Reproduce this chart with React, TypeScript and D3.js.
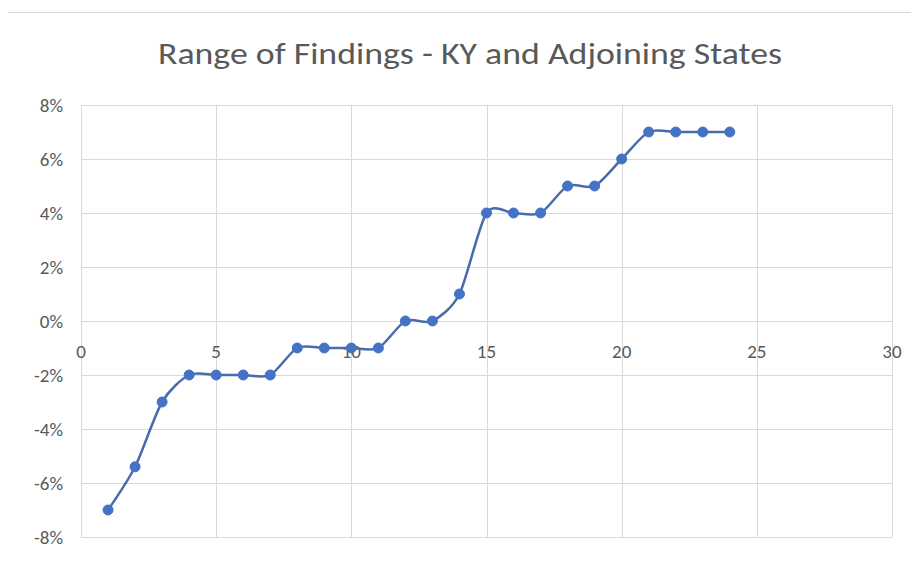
import * as d3 from 'd3';
import React, { useRef, useEffect } from 'react';

const xValues = [1, 2, 3, 4, 5, 6, 7, 8, 9, 10, 11, 12, 13, 14, 15, 16, 17, 18, 19, 20, 21, 22, 23, 24];
const findings = [-7, -5.4, -3, -2, -2, -2, -2, -1, -1, -1, -1, 0, 0, 1, 4, 4, 4, 5, 5, 6, 7, 7, 7, 7];
const yTicks = [-8, -6, -4, -2, 0, 2, 4, 6, 8];
const xTicks = [0, 5, 10, 15, 20, 25, 30];

const title = 'Range of Findings - KY and Adjoining States';

const RangeChart: React.FC = () => {
    const ref = useRef<SVGSVGElement | null>(null);

    useEffect(() => {
        const width = 919;
        const height = 561;
        const font = "Calibri, Carlito, Lato, 'Open Sans', sans-serif";

        const svg = d3.select(ref.current).attr('width', width).attr('height', height);
        svg.selectAll('*').remove();

        svg.append('rect')
            .attr('width', width)
            .attr('height', height)
            .attr('fill', '#ffffff');

        // chart frame
        svg.append('rect')
            .attr('x', 7.5)
            .attr('y', 12.5)
            .attr('width', 910)
            .attr('height', 570)
            .attr('fill', 'none')
            .attr('stroke', '#d9d9d9');

        const x = d3.scaleLinear().domain([0, 30]).range([81, 892]);
        const y = d3.scaleLinear().domain([-8, 8]).range([537, 105]);

        // gridlines
        svg.append('g')
            .selectAll('line')
            .data(yTicks)
            .join('line')
            .attr('x1', x(0))
            .attr('x2', x(30))
            .attr('y1', (d) => y(d) + 0.5)
            .attr('y2', (d) => y(d) + 0.5)
            .attr('stroke', '#d9d9d9')
            .attr('stroke-width', 1);

        svg.append('g')
            .selectAll('line')
            .data(xTicks)
            .join('line')
            .attr('x1', (d) => Math.round(x(d)) + 0.5)
            .attr('x2', (d) => Math.round(x(d)) + 0.5)
            .attr('y1', y(8))
            .attr('y2', y(-8))
            .attr('stroke', '#d9d9d9')
            .attr('stroke-width', 1);

        // y labels
        svg.append('g')
            .selectAll('text')
            .data(yTicks)
            .join('text')
            .attr('x', 63)
            .attr('y', (d) => y(d) + 7)
            .attr('text-anchor', 'end')
            .style('font-family', font)
            .style('font-size', '19px')
            .attr('fill', '#595959')
            .text((d) => `${d}%`);

        // x labels sit on the 0% line
        svg.append('g')
            .selectAll('text')
            .data(xTicks)
            .join('text')
            .attr('x', (d) => x(d))
            .attr('y', y(0) + 37)
            .attr('text-anchor', 'middle')
            .style('font-family', font)
            .style('font-size', '19px')
            .attr('fill', '#595959')
            .text((d) => d);

        // title
        svg.append('text')
            .attr('x', 470)
            .attr('y', 64)
            .attr('text-anchor', 'middle')
            .attr('textLength', 624)
            .attr('lengthAdjust', 'spacingAndGlyphs')
            .style('font-family', font)
            .style('font-size', '31px')
            .style('font-weight', 300)
            .attr('fill', '#595959')
            .text(title);

        const points: [number, number][] = xValues.map((v, i) => [v, findings[i]]);

        const line = d3
            .line<[number, number]>()
            .x((d) => x(d[0]))
            .y((d) => y(d[1]))
            .curve(d3.curveCardinal.tension(0.2));

        svg.append('path')
            .datum(points)
            .attr('d', line)
            .attr('fill', 'none')
            .attr('stroke', '#4a6aae')
            .attr('stroke-width', 2.5);

        svg.append('g')
            .selectAll('circle')
            .data(points)
            .join('circle')
            .attr('cx', (d) => x(d[0]))
            .attr('cy', (d) => y(d[1]))
            .attr('r', 5)
            .attr('fill', '#4472c4')
            .attr('stroke', '#4472c4');
    }, []);

    return <svg ref={ref} style={{ display: 'block' }}></svg>;
};

export default function App() {
    return (
        <div style={{ margin: -8 }}>
            <RangeChart />
        </div>
    );
}
